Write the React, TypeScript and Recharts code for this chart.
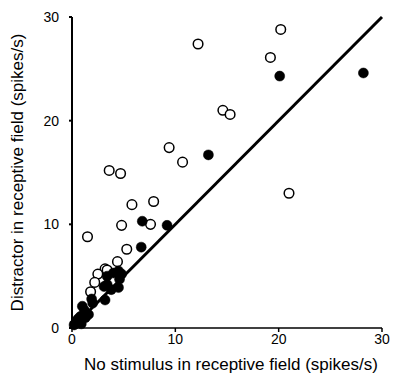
import React from 'react';
import { ScatterChart, Scatter, XAxis, YAxis, ReferenceLine } from 'recharts';

const xTicks = [0, 10, 20, 30];
const yTicks = [0, 10, 20, 30];

const openX = [12.2, 20.2, 19.2, 14.6, 15.3, 9.4, 10.7, 3.6, 4.7, 21.0, 5.8, 7.9, 4.8, 7.6, 1.5, 5.3, 4.4, 3.2, 3.4, 2.5, 2.2, 1.8];
const openY = [27.4, 28.8, 26.1, 21.0, 20.6, 17.4, 16.0, 15.2, 14.9, 13.0, 11.9, 12.2, 9.9, 10.0, 8.8, 7.6, 6.4, 5.7, 5.6, 5.2, 4.4, 3.5];

const filledX = [28.2, 20.1, 13.2, 6.8, 9.2, 6.7, 4.5, 4.8, 3.4, 4.0, 4.6, 3.4, 3.8, 4.5, 3.1, 3.2, 1.9, 2.0, 1.0, 1.6, 1.2, 0.8, 0.45, 0.3, 0.9, 0.2, 0.6, 1.3];
const filledY = [24.6, 24.3, 16.7, 10.3, 9.9, 7.8, 5.5, 5.2, 5.0, 5.3, 4.7, 4.2, 3.7, 3.9, 4.0, 2.7, 2.8, 2.4, 2.1, 1.3, 1.7, 1.1, 0.7, 0.4, 0.4, 0.3, 0.9, 1.0];

const openData = openX.map((x, i) => ({ x, y: openY[i] }));
const filledData = filledX.map((x, i) => ({ x, y: filledY[i] }));

const font = '"Liberation Sans", Arial, sans-serif';

const OpenDot = (props: any) => (
  <circle cx={props.cx} cy={props.cy} r={4.8} fill="#fff" stroke="#000" strokeWidth={1.5} />
);
const FilledDot = (props: any) => (
  <circle cx={props.cx} cy={props.cy} r={5} fill="#000" stroke="#000" strokeWidth={0.5} />
);

export default function App() {
  return (
    <div style={{ position: 'absolute', left: 0, top: 0, width: 393, height: 375, background: '#fff', fontFamily: font }}>
      <ScatterChart width={393} height={375} margin={{ top: 17, right: 11, bottom: 0, left: 0 }}>
        <XAxis
          type="number"
          dataKey="x"
          domain={[0, 30]}
          ticks={xTicks}
          height={47}
          stroke="#000"
          strokeWidth={1.5}
          tickSize={4}
          tickMargin={2}
          tick={{ fill: '#000', fontSize: 14, fontFamily: font }}
          label={{ value: 'No stimulus in receptive field (spikes/s)', position: 'insideBottom', offset: 5, dx: 4, fill: '#000', fontSize: 17, fontFamily: font }}
        />
        <YAxis
          type="number"
          dataKey="y"
          domain={[0, 30]}
          ticks={yTicks}
          width={72}
          stroke="#000"
          strokeWidth={2}
          tickSize={3}
          tickMargin={10}
          tick={{ fill: '#000', fontSize: 14, fontFamily: font }}
          label={{ value: 'Distractor in receptive field (spikes/s)', angle: -90, position: 'insideLeft', offset: 17, style: { textAnchor: 'middle' }, fill: '#000', fontSize: 17, fontFamily: font }}
        />
        <ReferenceLine segment={[{ x: 0, y: 0 }, { x: 30, y: 30 }]} stroke="#000" strokeWidth={3} ifOverflow="visible" />
        <Scatter data={openData} shape={OpenDot} isAnimationActive={false} />
        <Scatter data={filledData} shape={FilledDot} isAnimationActive={false} />
      </ScatterChart>
    </div>
  );
}
